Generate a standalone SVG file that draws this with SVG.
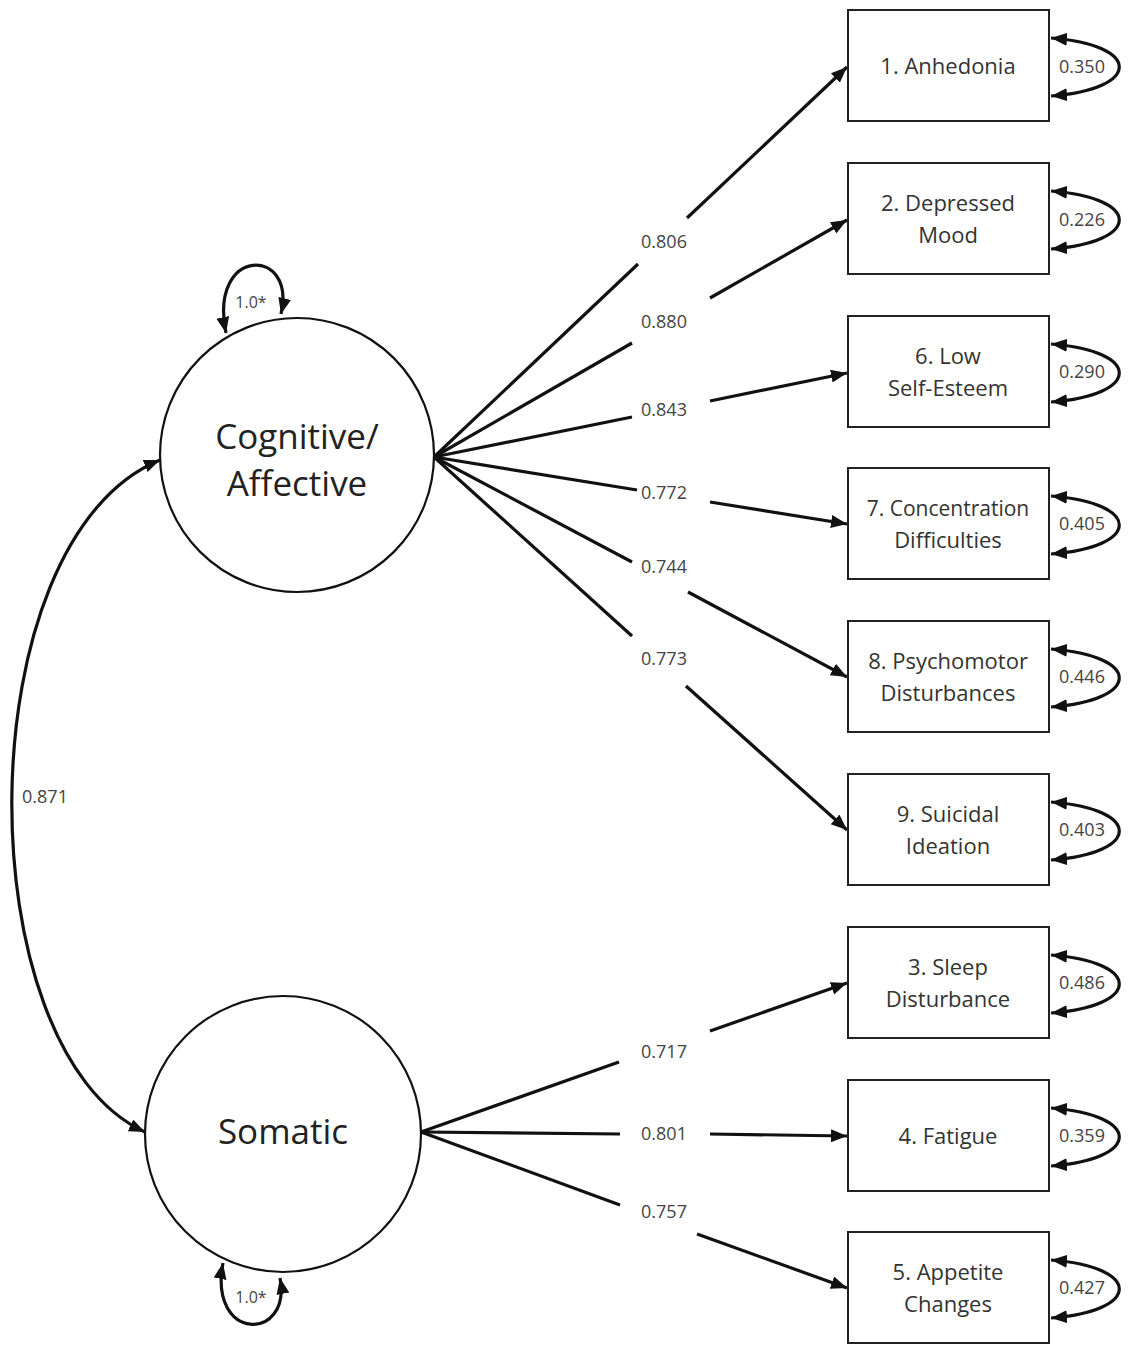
<svg xmlns="http://www.w3.org/2000/svg" width="1128" height="1345" viewBox="0 0 1128 1345">
<style>
.box{fill:#fff;stroke:#222;stroke-width:2}
.lat{fill:#fff;stroke:#111;stroke-width:2.2}
.ln{fill:none;stroke:#111;stroke-width:3.2}
.lb{font-family:"Open Sans","Liberation Sans",sans-serif;font-size:22px;fill:#333;text-anchor:middle}
.lt{font-family:"Open Sans","Liberation Sans",sans-serif;font-size:35px;fill:#222;text-anchor:middle}
.nm{font-family:"Open Sans","Liberation Sans",sans-serif;font-size:18px;fill:#444;text-anchor:middle}
</style>
<defs>
<marker id="ah" markerUnits="userSpaceOnUse" markerWidth="18" markerHeight="14" refX="16" refY="6.5" orient="auto-start-reverse">
<path d="M0,0 L16,6.5 L0,13 Z" fill="#111"/>
</marker>
</defs>

<g id="connectors">
<!-- covariance -->
<path class="ln" d="M160,460 C-35,540 -35,1050 145,1132" marker-start="url(#ah)" marker-end="url(#ah)"/>
<text class="nm" x="45" y="803">0.871</text>
<!-- factor variances -->
<path class="ln" d="M226,333 C208,246 297,246 281,314" marker-start="url(#ah)" marker-end="url(#ah)"/>
<text class="nm" x="251" y="308" style="font-size:16px">1.0*</text>
<path class="ln" d="M223,1263 C208,1342 292,1342 280,1278" marker-start="url(#ah)" marker-end="url(#ah)"/>
<text class="nm" x="251" y="1303" style="font-size:16px">1.0*</text>
<!-- loadings cognitive -->
<path class="ln" d="M434,457 L638,264"/><path class="ln" d="M687,218 L847,67" marker-end="url(#ah)"/>
<text class="nm" x="664" y="248">0.806</text>
<path class="ln" d="M434,457 L632,343"/><path class="ln" d="M710,298 L847,220" marker-end="url(#ah)"/>
<text class="nm" x="664" y="328">0.880</text>
<path class="ln" d="M434,457 L632,417"/><path class="ln" d="M710,401 L847,373" marker-end="url(#ah)"/>
<text class="nm" x="664" y="416">0.843</text>
<path class="ln" d="M434,457 L637,490"/><path class="ln" d="M710,502 L847,524" marker-end="url(#ah)"/>
<text class="nm" x="664" y="499">0.772</text>
<path class="ln" d="M434,457 L632,562"/><path class="ln" d="M688,592 L847,677" marker-end="url(#ah)"/>
<text class="nm" x="664" y="573">0.744</text>
<path class="ln" d="M434,457 L632,636"/><path class="ln" d="M686,686 L847,830" marker-end="url(#ah)"/>
<text class="nm" x="664" y="665">0.773</text>
<!-- loadings somatic -->
<path class="ln" d="M421,1132 L619,1062"/><path class="ln" d="M710,1031 L847,983" marker-end="url(#ah)"/>
<text class="nm" x="664" y="1058">0.717</text>
<path class="ln" d="M421,1132 L620,1134"/><path class="ln" d="M710,1134 L847,1136" marker-end="url(#ah)"/>
<text class="nm" x="664" y="1140">0.801</text>
<path class="ln" d="M421,1132 L620,1205"/><path class="ln" d="M697,1234 L847,1288" marker-end="url(#ah)"/>
<text class="nm" x="664" y="1218">0.757</text>
<!-- residuals -->
<path class="ln" d="M1051,38 C1142,45 1142,89 1051,96" marker-start="url(#ah)" marker-end="url(#ah)"/>
<text class="nm" x="1082" y="73">0.350</text>
<path class="ln" d="M1051,191 C1142,198 1142,242 1051,249" marker-start="url(#ah)" marker-end="url(#ah)"/>
<text class="nm" x="1082" y="226">0.226</text>
<path class="ln" d="M1051,344 C1142,351 1142,395 1051,402" marker-start="url(#ah)" marker-end="url(#ah)"/>
<text class="nm" x="1082" y="378">0.290</text>
<path class="ln" d="M1051,496 C1142,503 1142,547 1051,554" marker-start="url(#ah)" marker-end="url(#ah)"/>
<text class="nm" x="1082" y="530">0.405</text>
<path class="ln" d="M1051,649 C1142,656 1142,700 1051,707" marker-start="url(#ah)" marker-end="url(#ah)"/>
<text class="nm" x="1082" y="683">0.446</text>
<path class="ln" d="M1051,802 C1142,809 1142,853 1051,860" marker-start="url(#ah)" marker-end="url(#ah)"/>
<text class="nm" x="1082" y="836">0.403</text>
<path class="ln" d="M1051,955 C1142,962 1142,1006 1051,1013" marker-start="url(#ah)" marker-end="url(#ah)"/>
<text class="nm" x="1082" y="989">0.486</text>
<path class="ln" d="M1051,1108 C1142,1115 1142,1159 1051,1166" marker-start="url(#ah)" marker-end="url(#ah)"/>
<text class="nm" x="1082" y="1142">0.359</text>
<path class="ln" d="M1051,1260 C1142,1267 1142,1311 1051,1318" marker-start="url(#ah)" marker-end="url(#ah)"/>
<text class="nm" x="1082" y="1294">0.427</text>
</g>

<g id="cognitive"><circle class="lat" cx="297" cy="455" r="137"/>
<text class="lt" x="297" y="449">Cognitive/</text><text class="lt" x="297" y="496">Affective</text></g>
<g id="somatic"><circle class="lat" cx="283" cy="1134" r="138"/>
<text class="lt" x="283" y="1144">Somatic</text></g>

<g id="item1"><rect class="box" x="848" y="10" width="201" height="111"/><text class="lb" x="948" y="74">1. Anhedonia</text></g>
<g id="item2"><rect class="box" x="848" y="163" width="201" height="111"/><text class="lb" x="948" y="211">2. Depressed</text><text class="lb" x="948" y="243">Mood</text></g>
<g id="item6"><rect class="box" x="848" y="316" width="201" height="111"/><text class="lb" x="948" y="364">6. Low</text><text class="lb" x="948" y="396">Self-Esteem</text></g>
<g id="item7"><rect class="box" x="848" y="468" width="201" height="111"/><text class="lb" x="948" y="516" style="font-size:21px">7. Concentration</text><text class="lb" x="948" y="548">Difficulties</text></g>
<g id="item8"><rect class="box" x="848" y="621" width="201" height="111"/><text class="lb" x="948" y="669">8. Psychomotor</text><text class="lb" x="948" y="701">Disturbances</text></g>
<g id="item9"><rect class="box" x="848" y="774" width="201" height="111"/><text class="lb" x="948" y="822">9. Suicidal</text><text class="lb" x="948" y="854">Ideation</text></g>
<g id="item3"><rect class="box" x="848" y="927" width="201" height="111"/><text class="lb" x="948" y="975">3. Sleep</text><text class="lb" x="948" y="1007">Disturbance</text></g>
<g id="item4"><rect class="box" x="848" y="1080" width="201" height="111"/><text class="lb" x="948" y="1144">4. Fatigue</text></g>
<g id="item5"><rect class="box" x="848" y="1232" width="201" height="111"/><text class="lb" x="948" y="1280">5. Appetite</text><text class="lb" x="948" y="1312">Changes</text></g>
</svg>
